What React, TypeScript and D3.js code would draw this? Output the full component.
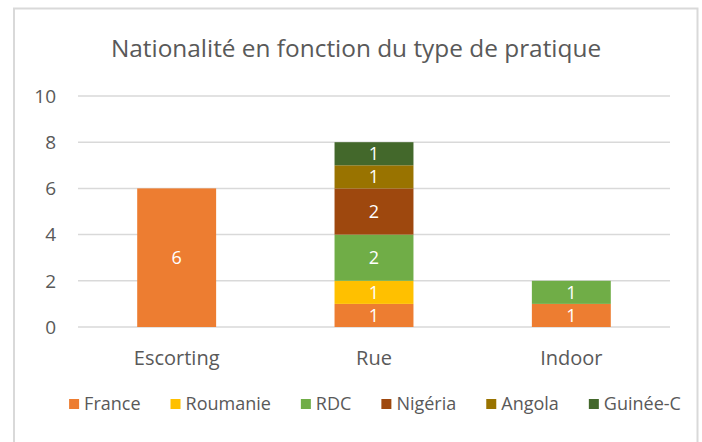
import React, { useEffect, useRef } from 'react';
import * as d3 from 'd3';

// categories (x axis) and series (stack order, bottom to top)
const categories = ['Escorting', 'Rue', 'Indoor'];
const nationalities = ['France', 'Roumanie', 'RDC', 'Nigéria', 'Angola', 'Guinée-C'];
const france = [6, 1, 1];
const roumanie = [0, 1, 0];
const rdc = [0, 2, 1];
const nigeria = [0, 2, 0];
const angola = [0, 1, 0];
const guinee = [0, 1, 0];
const yTicks = [0, 2, 4, 6, 8, 10];
const colors = ['#ED7D31', '#FFC000', '#70AD47', '#9E480E', '#997300', '#43682B'];
const title = 'Nationalité en fonction du type de pratique';

const W = 702;
const H = 442;
const FONT = '"Open Sans", sans-serif';
const GREY = '#595959';

const drawChart = (svgEl: SVGSVGElement) => {
  const svg = d3.select(svgEl);
  svg.selectAll('*').remove();

  const seriesValues = [france, roumanie, rdc, nigeria, angola, guinee];
  const rows = categories.map((c, i) => {
    const row: any = { cat: c };
    nationalities.forEach((n, j) => (row[n] = seriesValues[j][i]));
    return row;
  });
  const stacked = d3.stack().keys(nationalities)(rows);

  const x = d3.scaleBand().domain(categories).range([78, 670]).paddingInner(0.6).paddingOuter(0.3);
  const y = d3.scaleLinear().domain([0, 10]).range([327, 96]);
  const color = d3.scaleOrdinal<string, string>().domain(nationalities).range(colors);

  // chart border
  svg.append('rect')
    .attr('x', 14).attr('y', 8.5)
    .attr('width', 683.5).attr('height', 460)
    .attr('fill', '#fff')
    .attr('stroke', '#D9D9D9').attr('stroke-width', 2);

  // title
  svg.append('text')
    .text(title)
    .attr('x', 356).attr('y', 57)
    .attr('text-anchor', 'middle')
    .style('font-family', FONT).style('font-size', '24.4px')
    .attr('fill', GREY);

  // gridlines
  svg.append('g').selectAll('line')
    .data(yTicks)
    .enter()
    .append('line')
    .attr('x1', 78).attr('x2', 670)
    .attr('y1', d => y(d)).attr('y2', d => y(d))
    .attr('stroke', '#D9D9D9').attr('stroke-width', 1.5);

  // y labels
  svg.append('g').selectAll('text')
    .data(yTicks)
    .enter()
    .append('text')
    .text(d => d)
    .attr('x', 56).attr('y', d => y(d)).attr('dy', '0.36em')
    .attr('text-anchor', 'end')
    .style('font-family', FONT).style('font-size', '19px')
    .attr('fill', GREY);

  // bars
  const layers = svg.append('g').selectAll('g')
    .data(stacked)
    .enter()
    .append('g')
    .attr('fill', d => color(d.key));

  layers.selectAll('rect')
    .data(d => d.filter(s => s[1] - s[0] > 0))
    .enter()
    .append('rect')
    .attr('x', (d: any) => x(d.data.cat)!)
    .attr('y', d => y(d[1]))
    .attr('width', x.bandwidth())
    .attr('height', d => y(d[0]) - y(d[1]));

  layers.selectAll('text')
    .data(d => d.filter(s => s[1] - s[0] > 0))
    .enter()
    .append('text')
    .text(d => d[1] - d[0])
    .attr('x', (d: any) => x(d.data.cat)! + x.bandwidth() / 2)
    .attr('y', d => y((d[0] + d[1]) / 2)).attr('dy', '0.36em')
    .attr('text-anchor', 'middle')
    .style('font-family', FONT).style('font-size', '18px')
    .attr('fill', '#fff');

  // category labels
  svg.append('g').selectAll('text')
    .data(categories)
    .enter()
    .append('text')
    .text(d => d)
    .attr('x', d => x(d)! + x.bandwidth() / 2)
    .attr('y', 365)
    .attr('text-anchor', 'middle')
    .style('font-family', FONT).style('font-size', '20px')
    .attr('fill', GREY);

  // legend, laid out from measured text widths and centred on the plot
  const legend = svg.append('g');
  const items = legend.selectAll('g')
    .data(nationalities)
    .enter()
    .append('g');
  items.append('rect')
    .attr('width', 10).attr('height', 10)
    .attr('y', 399)
    .attr('fill', d => color(d));
  items.append('text')
    .text(d => d)
    .attr('x', 15).attr('y', 410)
    .style('font-family', FONT).style('font-size', '18px')
    .attr('fill', GREY);
  const widths: number[] = [];
  items.select('text').each(function () {
    widths.push(15 + (this as SVGTextElement).getComputedTextLength());
  });
  const gap = 30;
  const total = d3.sum(widths) + gap * (widths.length - 1);
  let cursor = 375 - total / 2;
  items.attr('transform', (d, i) => {
    const t = `translate(${cursor},0)`;
    cursor += widths[i] + gap;
    return t;
  });
};

const App = () => {
  const ref = useRef<SVGSVGElement>(null);
  useEffect(() => {
    if (ref.current) drawChart(ref.current);
  }, []);
  return (
    <svg ref={ref} width={W} height={H}
      style={{ position: 'absolute', left: 0, top: 0, background: '#fff' }} />
  );
};

export default App;
